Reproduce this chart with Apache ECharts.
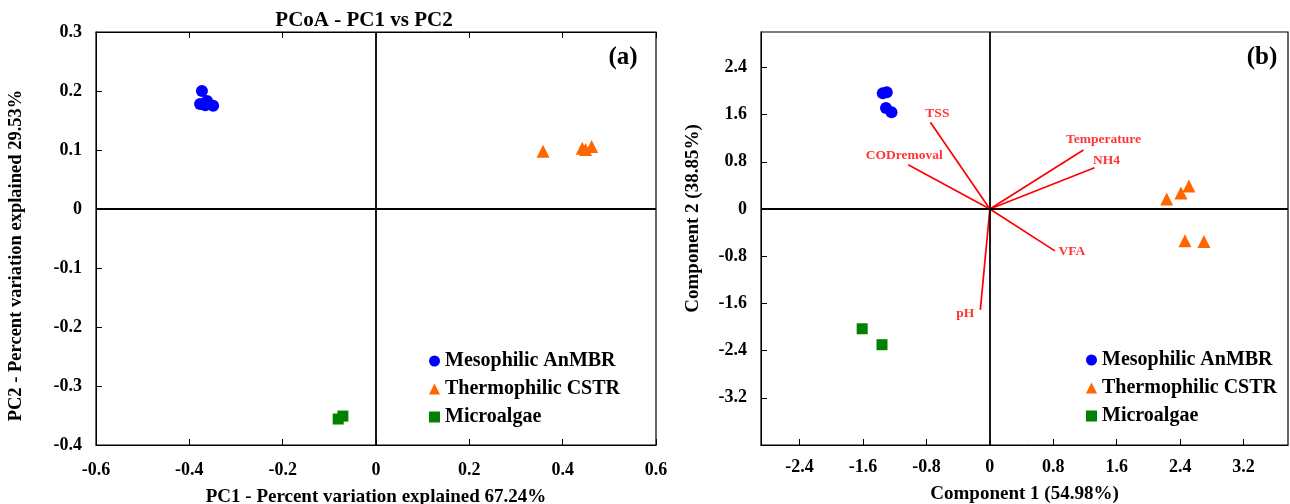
<!DOCTYPE html>
<html><head><meta charset="utf-8">
<script src="https://cdn.jsdelivr.net/npm/echarts@6/dist/echarts.min.js"></script>
<style>html,body{margin:0;padding:0;background:#fff}#c{width:1290px;height:504px}</style>
</head><body><div id="c"></div>
<script>
// ---- Data: panel (a) PCoA ----
const seriesNames = ['Mesophilic AnMBR', 'Thermophilic CSTR', 'Microalgae'];
const mesoA = [[-0.373, 0.200], [-0.377, 0.178], [-0.362, 0.183], [-0.349, 0.175], [-0.366, 0.176]];
const thermoA = [[0.358, 0.098], [0.442, 0.103], [0.449, 0.101], [0.462, 0.106]];
const algaeA = [[-0.081, -0.356], [-0.071, -0.351]];
// ---- Data: panel (b) PCA biplot ----
const mesoB = [[-1.35, 1.96], [-1.30, 1.98], [-1.31, 1.71], [-1.24, 1.64]];
const thermoB = [[2.23, 0.17], [2.41, 0.27], [2.51, 0.39], [2.46, -0.54], [2.70, -0.55]];
const algaeB = [[-1.61, -2.03], [-1.36, -2.30]];
const loadingNames = ['TSS', 'CODremoval', 'Temperature', 'NH4', 'VFA', 'pH'];
const loadingX = [-0.75, -1.03, 1.18, 1.32, 0.82, -0.12];
const loadingY = [1.47, 0.75, 1.00, 0.70, -0.71, -1.71];
// ---- Tick labels ----
const ticksBX = [-2.4, -1.6, -0.8, 0, 0.8, 1.6, 2.4, 3.2];
const ticksBY = [-3.2, -2.4, -1.6, -0.8, 0, 0.8, 1.6, 2.4];

const FONT = '"Liberation Serif", "Times New Roman", serif';
const labelOffsets = {TSS: [7, -9], CODremoval: [-4, -9], Temperature: [20, -10], NH4: [12, -7], VFA: [17, 1], pH: [-15, 4]};
const fmt = v => (Math.abs(v) < 1e-9 ? '0' : String(+v.toFixed(2)));
const axisLabelStyle = {color: '#000', fontFamily: FONT, fontWeight: 'bold', fontSize: 18};
const nameStyle = {color: '#000', fontFamily: FONT, fontWeight: 'bold', fontSize: 19};

const chart = echarts.init(document.getElementById('c'), null, {renderer: 'canvas'});
const zeroLines = {
  silent: true, symbol: 'none', animation: false,
  lineStyle: {color: '#000', width: 1.8, type: 'solid'},
  label: {show: false},
  data: [{xAxis: 0}, {yAxis: 0}]
};
const colors = ['#0000ff', '#ff6600', '#008000'];
const symbols = ['circle', 'triangle', 'rect'];
const sizes = [12, 13, 11];

const option = {
  animation: false,
  backgroundColor: '#fff',
  grid: [
    {left: 96, top: 32, width: 560, height: 413, show: true, borderColor: '#000', borderWidth: 1.2, backgroundColor: 'transparent', containLabel: false, outerBoundsMode: 'none'},
    {left: 761, top: 32, width: 527, height: 413, show: true, borderColor: '#000', borderWidth: 1.2, backgroundColor: 'transparent', containLabel: false, outerBoundsMode: 'none'}
  ],
  xAxis: [
    {type: 'value', gridIndex: 0, min: -0.6, max: 0.6, interval: 0.2,
     name: 'PC1 - Percent variation explained 67.24%', nameLocation: 'middle', nameGap: 43, nameTextStyle: nameStyle,
     axisLine: {onZero: false, lineStyle: {color: '#000'}}, axisTick: {inside: true, length: 6, lineStyle: {color: '#000'}},
     axisLabel: Object.assign({margin: 16, formatter: fmt}, axisLabelStyle), splitLine: {show: false}},
    {type: 'value', gridIndex: 0, position: 'top', min: -0.6, max: 0.6, interval: 0.2,
     axisLine: {onZero: false, lineStyle: {color: '#000'}}, axisTick: {inside: true, length: 6, lineStyle: {color: '#000'}},
     axisLabel: {show: false}, splitLine: {show: false}},
    {type: 'value', gridIndex: 1, min: -2.886, max: 3.76,
     name: 'Component 1 (54.98%)', nameLocation: 'middle', nameGap: 40, nameTextStyle: nameStyle,
     axisLine: {onZero: false, lineStyle: {color: '#000'}},
     axisTick: {inside: true, length: 6, customValues: ticksBX, lineStyle: {color: '#000'}},
     axisLabel: Object.assign({margin: 13, customValues: ticksBX, formatter: fmt}, axisLabelStyle), splitLine: {show: false}}
  ],
  yAxis: [
    {type: 'value', gridIndex: 0, min: -0.4, max: 0.3, interval: 0.1,
     name: 'PC2 - Percent variation explained 29.53%', nameLocation: 'middle', nameGap: 70,
     nameTextStyle: Object.assign({padding: [0, 34, 0, 0]}, nameStyle, {fontSize: 18.5}),
     axisLine: {onZero: false, lineStyle: {color: '#000'}}, axisTick: {inside: true, length: 6, lineStyle: {color: '#000'}},
     axisLabel: Object.assign({margin: 14, formatter: fmt}, axisLabelStyle), splitLine: {show: false}},
    {type: 'value', gridIndex: 1, min: -4, max: 3,
     name: 'Component 2 (38.85%)', nameLocation: 'middle', nameGap: 58,
     nameTextStyle: Object.assign({padding: [0, 0, 0, 40]}, nameStyle),
     axisLine: {onZero: false, lineStyle: {color: '#000'}},
     axisTick: {inside: true, length: 6, customValues: ticksBY, lineStyle: {color: '#000'}},
     axisLabel: Object.assign({margin: 14, customValues: ticksBY, formatter: fmt}, axisLabelStyle), splitLine: {show: false}}
  ],
  legend: [
    {left: 424, top: 346, orient: 'vertical', itemGap: 8, itemWidth: 11, itemHeight: 11, data: seriesNames,
     textStyle: {color: '#000', fontFamily: FONT, fontWeight: 'bold', fontSize: 20}, selectedMode: false},
    {left: 1081, top: 345, orient: 'vertical', itemGap: 8, itemWidth: 11, itemHeight: 11, data: seriesNames,
     textStyle: {color: '#000', fontFamily: FONT, fontWeight: 'bold', fontSize: 20}, selectedMode: false}
  ],
  graphic: [
    {type: 'text', x: 364, y: 21, style: {text: 'PCoA - PC1 vs PC2', font: 'bold 21px ' + FONT, fill: '#000', align: 'center', verticalAlign: 'middle', textAlign: 'center', textVerticalAlign: 'middle'}},
    {type: 'text', x: 623, y: 58, style: {text: '(a)', font: 'bold 25px ' + FONT, fill: '#000', align: 'center', verticalAlign: 'middle', textAlign: 'center', textVerticalAlign: 'middle'}},
    {type: 'text', x: 1262, y: 58, style: {text: '(b)', font: 'bold 25px ' + FONT, fill: '#000', align: 'center', verticalAlign: 'middle', textAlign: 'center', textVerticalAlign: 'middle'}}
  ],
  series: []
};

const dataA = [mesoA, thermoA, algaeA];
const dataB = [mesoB, thermoB, algaeB];
seriesNames.forEach((n, i) => {
  option.series.push({
    name: n, type: 'scatter', xAxisIndex: 0, yAxisIndex: 0, data: dataA[i],
    symbol: symbols[i], symbolSize: sizes[i], itemStyle: {color: colors[i], opacity: 1},
    markLine: i === 0 ? zeroLines : undefined, z: 3
  });
});
seriesNames.forEach((n, i) => {
  option.series.push({
    name: n, type: 'scatter', xAxisIndex: 2, yAxisIndex: 1, data: dataB[i],
    symbol: symbols[i], symbolSize: sizes[i], itemStyle: {color: colors[i], opacity: 1},
    markLine: i === 0 ? zeroLines : undefined, z: 3
  });
});
// loading vectors
option.series.push({
  name: 'loadings', type: 'lines', coordinateSystem: 'cartesian2d', xAxisIndex: 2, yAxisIndex: 1,
  data: loadingNames.map((n, i) => ({coords: [[0, 0], [loadingX[i], loadingY[i]]]})),
  lineStyle: {color: '#ff0000', width: 1.7, opacity: 1}, z: 4, silent: true
});
option.series.push({
  name: 'loadingLabels', type: 'scatter', xAxisIndex: 2, yAxisIndex: 1,
  data: loadingNames.map((n, i) => ({value: [loadingX[i], loadingY[i]], name: n})),
  symbolSize: 2, itemStyle: {color: 'rgba(0,0,0,0)'},
  label: {show: true, formatter: p => p.name, position: 'inside',
          offset: [0, 0], color: '#ff0000', fontFamily: FONT, fontWeight: 'bold', fontSize: 13.5},
  labelLayout: p => ({dx: labelOffsets[loadingNames[p.dataIndex]][0], dy: labelOffsets[loadingNames[p.dataIndex]][1]}),
  z: 5, silent: true
});

chart.setOption(option);
</script></body></html>
